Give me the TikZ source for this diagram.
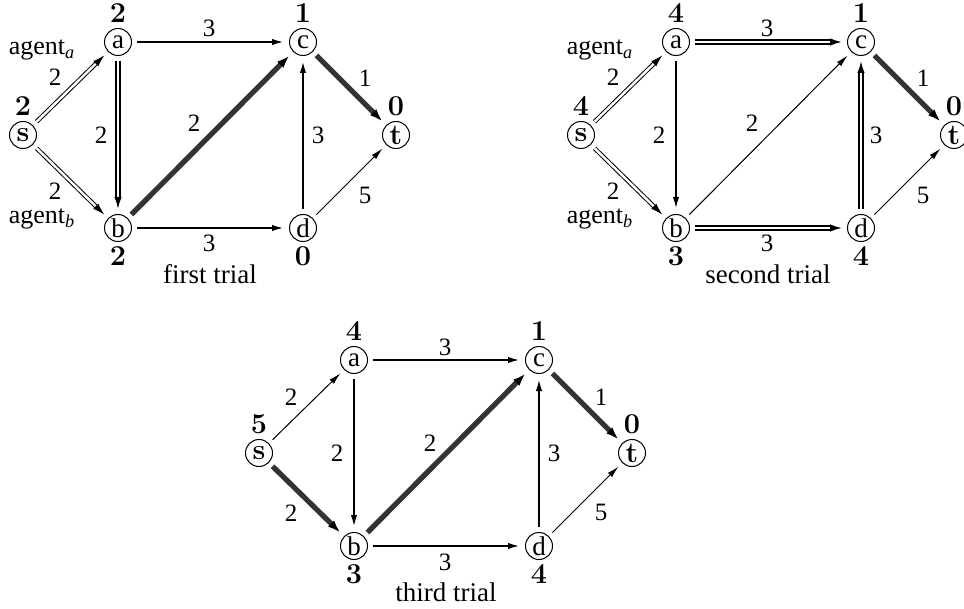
\documentclass[tikz,border=0pt]{standalone}
\usepackage[no-math]{fontspec}
\setmainfont{Liberation Serif}
\usetikzlibrary{arrows.meta}
\newcommand\bnum[1]{{\fontencoding{OT1}\fontfamily{cmr}\fontseries{bx}\fontshape{n}\selectfont #1}}
\begin{document}
\begin{tikzpicture}[x=0.5pt,y=-0.5pt,font=\fontsize{12.5}{14}\selectfont,
  every node/.style={inner sep=0.5pt},
  vert/.style={circle,draw,line width=0.5pt,minimum size=13.5pt,inner sep=0pt,font=\fontsize{13.5}{14}\selectfont},
  edge/.style={shorten <=2.5pt,shorten >=2.5pt},
  ethin/.style={edge,line width=0.5pt,-{Latex[length=6pt,width=3pt]}},
  emed/.style={edge,line width=1pt,-{Latex[length=6pt,width=3.2pt]}},
  edbl/.style={edge,line width=0.5pt,double,double distance=1.2pt,-{Latex[length=6pt,width=3.6pt]}},
  edblthick/.style={edge,line width=0.9pt,double,double distance=0.9pt,-{Latex[length=6pt,width=3.8pt]}},
  eheavy/.style={edge,line width=2.6pt,draw=black!80,-{Latex[length=6.5pt,width=4.4pt,black]}},
  val/.style={font=\fontsize{14}{16}\selectfont},
  captxt/.style={font=\fontsize{13.5}{16}\selectfont},
  agt/.style={inner sep=0pt,font=\fontsize{13}{15}\selectfont},
]
\useasboundingbox (0,0) rectangle (964,609);

% ---------------- first trial ----------------
\begin{scope}[shift={(23,135)}]
\node[vert] (s1) at (0,0) {\bnum{s}};
\node[vert] (a1) at (95,-93) {a};
\node[vert] (c1) at (280,-93) {c};
\node[vert] (t1) at (373,0) {\bnum{t}};
\node[vert] (b1) at (95,93) {b};
\node[vert] (d1) at (280,93) {d};
\node[val] (vs1) at (0,-29) {\bnum{2}};
\node[val] (va1) at (95,-122) {\bnum{2}};
\node[val] (vc1) at (280,-122) {\bnum{1}};
\node[val] (vt1) at (373,-29) {\bnum{0}};
\node[val] (vb1) at (95,121) {\bnum{2}};
\node[val] (vd1) at (280,121) {\bnum{0}};
\node[captxt] (cap1) at (187,139) {first trial};
\node[agt] (ga1) at (19,-85) {agent\textsubscript{\textit{a}}};
\node[agt] (gb1) at (19,84) {agent\textsubscript{\textit{b}}};
\draw[edbl] (s1) -- (a1);
\draw[edbl] (s1) -- (b1);
\draw[edblthick] (a1) -- (b1);
\draw[emed] (a1) -- (c1);
\draw[eheavy] (b1) -- (c1);
\draw[emed] (b1) -- (d1);
\draw[emed] (d1) -- (c1);
\draw[eheavy] (c1) -- (t1);
\draw[ethin] (d1) -- (t1);
\node (l1sa) at (32,-58) {2};
\node (l1sb) at (32,56) {2};
\node (l1ab) at (78,0) {2};
\node (l1ac) at (186,-107) {3};
\node (l1bc) at (171,-12) {2};
\node (l1dc) at (295,0) {3};
\node (l1ct) at (342,-57) {1};
\node (l1dt) at (342,60) {5};
\node (l1bd) at (186,108) {3};
\end{scope}

% ---------------- second trial ----------------
\begin{scope}[shift={(581,135)}]
\node[vert] (s2) at (0,0) {\bnum{s}};
\node[vert] (a2) at (95,-93) {a};
\node[vert] (c2) at (280,-93) {c};
\node[vert] (t2) at (373,0) {\bnum{t}};
\node[vert] (b2) at (95,93) {b};
\node[vert] (d2) at (280,93) {d};
\node[val] (vs2) at (0,-29) {\bnum{4}};
\node[val] (va2) at (95,-122) {\bnum{4}};
\node[val] (vc2) at (280,-122) {\bnum{1}};
\node[val] (vt2) at (373,-29) {\bnum{0}};
\node[val] (vb2) at (95,121) {\bnum{3}};
\node[val] (vd2) at (280,121) {\bnum{4}};
\node[captxt] (cap2) at (187,139) {second trial};
\node[agt] (ga2) at (19,-85) {agent\textsubscript{\textit{a}}};
\node[agt] (gb2) at (19,84) {agent\textsubscript{\textit{b}}};
\draw[edbl] (s2) -- (a2);
\draw[edbl] (s2) -- (b2);
\draw[emed] (a2) -- (b2);
\draw[edblthick] (a2) -- (c2);
\draw[ethin] (b2) -- (c2);
\draw[edblthick] (b2) -- (d2);
\draw[edblthick] (d2) -- (c2);
\draw[eheavy] (c2) -- (t2);
\draw[ethin] (d2) -- (t2);
\node (l2sa) at (32,-58) {2};
\node (l2sb) at (32,56) {2};
\node (l2ab) at (78,0) {2};
\node (l2ac) at (186,-107) {3};
\node (l2bc) at (171,-12) {2};
\node (l2dc) at (295,0) {3};
\node (l2ct) at (342,-57) {1};
\node (l2dt) at (342,60) {5};
\node (l2bd) at (186,108) {3};
\end{scope}

% ---------------- third trial ----------------
\begin{scope}[shift={(259,453)}]
\node[vert] (s3) at (0,0) {\bnum{s}};
\node[vert] (a3) at (95,-93) {a};
\node[vert] (c3) at (280,-93) {c};
\node[vert] (t3) at (373,0) {\bnum{t}};
\node[vert] (b3) at (95,93) {b};
\node[vert] (d3) at (280,93) {d};
\node[val] (vs3) at (0,-29) {\bnum{5}};
\node[val] (va3) at (95,-122) {\bnum{4}};
\node[val] (vc3) at (280,-122) {\bnum{1}};
\node[val] (vt3) at (373,-29) {\bnum{0}};
\node[val] (vb3) at (95,121) {\bnum{3}};
\node[val] (vd3) at (280,121) {\bnum{4}};
\node[captxt] (cap3) at (187,139) {third trial};
\draw[ethin] (s3) -- (a3);
\draw[eheavy] (s3) -- (b3);
\draw[emed] (a3) -- (b3);
\draw[emed] (a3) -- (c3);
\draw[eheavy] (b3) -- (c3);
\draw[emed] (b3) -- (d3);
\draw[emed] (d3) -- (c3);
\draw[eheavy] (c3) -- (t3);
\draw[ethin] (d3) -- (t3);
\node (l3sa) at (32,-56) {2};
\node (l3sb) at (32,60) {2};
\node (l3ab) at (78,0) {2};
\node (l3ac) at (186,-106) {3};
\node (l3bc) at (171,-10) {2};
\node (l3dc) at (295,0) {3};
\node (l3ct) at (342,-56) {1};
\node (l3dt) at (342,59) {5};
\node (l3bd) at (186,109) {3};
\end{scope}
\end{tikzpicture}
\end{document}
